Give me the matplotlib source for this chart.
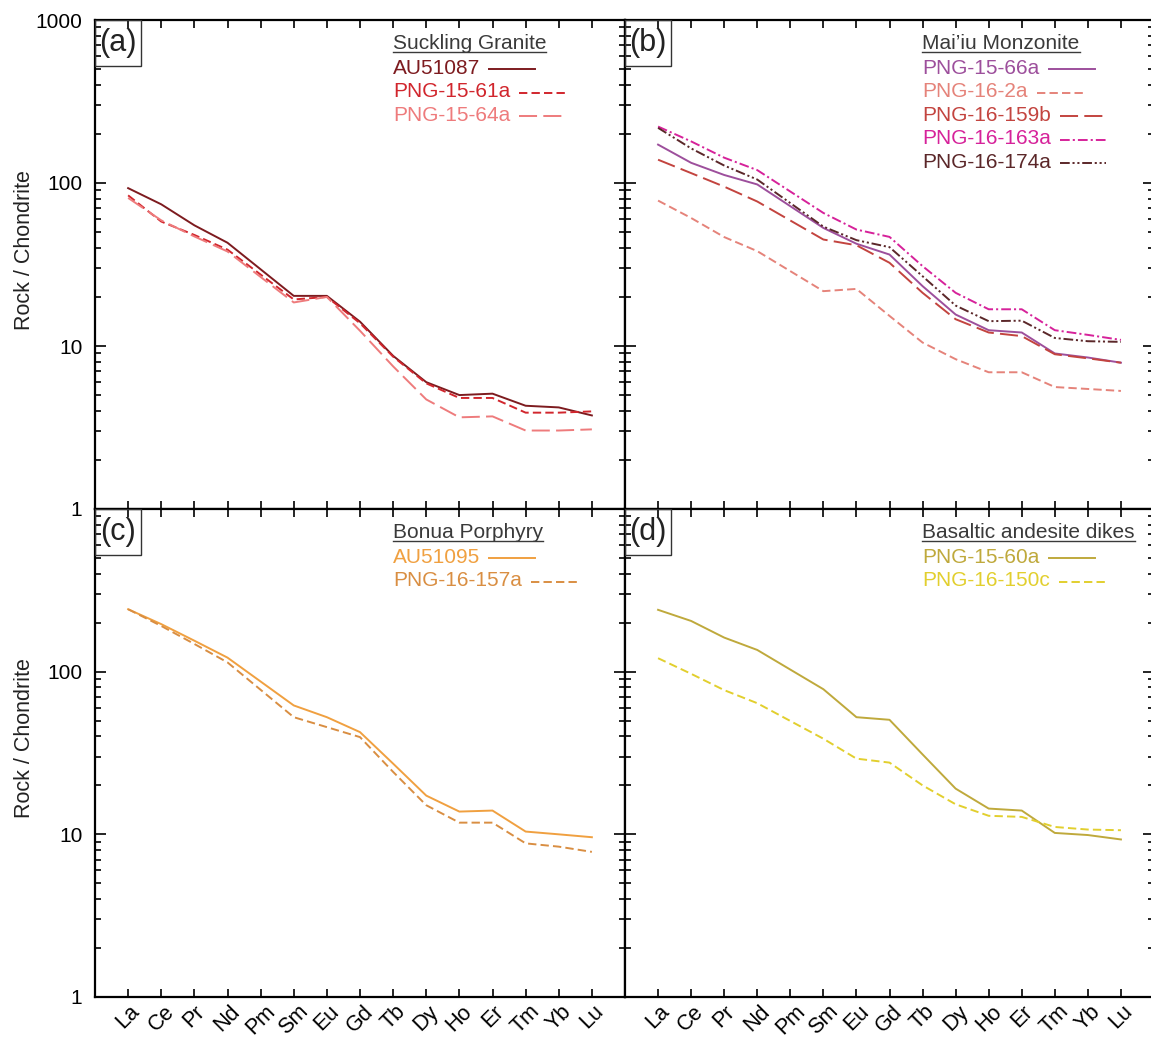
import matplotlib
matplotlib.use("Agg")
import matplotlib.pyplot as plt
import numpy as np
from matplotlib.lines import Line2D
from matplotlib.patches import Rectangle
from matplotlib.ticker import FixedLocator, FuncFormatter, LogLocator, NullFormatter

plt.rcParams["font.family"] = ["Liberation Sans", "DejaVu Sans"]
plt.rcParams["lines.scale_dashes"] = False

nan = np.nan
REE = ["La", "Ce", "Pr", "Nd", "Pm", "Sm", "Eu", "Gd", "Tb", "Dy",
       "Ho", "Er", "Tm", "Yb", "Lu"]

# chondrite-normalised REE, Pm not measured
# (a) Suckling Granite
au51087 = [93, 74, 55, 43, nan, 20.3, 20.3, 14.1, 8.7, 6.0, 5.0, 5.1, 4.3, 4.2, 3.75]
png_15_61a = [84, 58, 48, 39, nan, 19.3, 20.0, 13.8, 8.6, 5.9, 4.8, 4.8, 3.9, 3.9, 3.97]
png_15_64a = [81, 59, 47, 38, nan, 18.5, 20.0, 12.4, 7.5, 4.7, 3.65, 3.7, 3.03, 3.03, 3.08]

# (b) Mai'iu Monzonite
png_15_66a = [172, 133, 112, 98, nan, 53, 42.4, 36.4, 23.3, 15.6, 12.5, 12.1, 9.0, 8.5, 7.9]
png_16_2a = [78, 61, 46.6, 38.2, nan, 21.7, 22.4, 15.3, 10.5, 8.3, 6.9, 6.9, 5.6, 5.45, 5.3]
png_16_159b = [139, 115, 95, 77, nan, 45, 41.5, 32.4, 21.2, 14.6, 12.1, 11.5, 8.9, 8.4, 7.9]
png_16_163a = [222, 180, 143, 120, nan, 65.5, 51.8, 46.7, 30.9, 21.2, 16.8, 16.8, 12.5, 11.7, 10.9]
png_16_174a = [218, 163, 128, 105, nan, 54, 44.6, 40.4, 26.8, 17.7, 14.2, 14.3, 11.2, 10.7, 10.6]

# (c) Bonua Porphyry
au51095 = [242, 196, 155, 122, nan, 62, 52.5, 42.5, 27.2, 17.3, 13.8, 14.0, 10.4, 10.0, 9.6]
png_16_157a = [242, 191, 148, 114, nan, 52.5, 45.6, 39.6, 24.2, 15.1, 11.8, 11.8, 8.8, 8.4, 7.8]

# (d) Basaltic andesite dikes
png_15_60a = [240, 205, 162, 136, nan, 78, 52.5, 50.6, 31, 19.1, 14.4, 14.0, 10.2, 9.9, 9.3]
png_16_150c = [121, 97, 77, 64, nan, 38.7, 29.2, 27.6, 20, 15.3, 13.0, 12.8, 11.1, 10.7, 10.6]

SOLID = (None, None)
SHORT = (0, (6, 3))
LONG = (0, (13, 4.5))
DASHDOT = (0, (7, 2.2, 1.5, 2.2))
DASHDOTDOT = (0, (7, 2, 1.5, 2, 1.5, 2))

panels = [
    ("(a)", "Suckling Granite", [
        ("AU51087", au51087, "#7d1b1f", SOLID),
        ("PNG-15-61a", png_15_61a, "#d1262d", SHORT),
        ("PNG-15-64a", png_15_64a, "#ee7b7c", LONG)]),
    ("(b)", "Mai\u2019iu Monzonite", [
        ("PNG-15-66a", png_15_66a, "#9d4f9c", SOLID),
        ("PNG-16-2a", png_16_2a, "#e5837a", SHORT),
        ("PNG-16-159b", png_16_159b, "#c3443f", LONG),
        ("PNG-16-163a", png_16_163a, "#d6229a", DASHDOT),
        ("PNG-16-174a", png_16_174a, "#5b2729", DASHDOTDOT)]),
    ("(c)", "Bonua Porphyry", [
        ("AU51095", au51095, "#f0a040", SOLID),
        ("PNG-16-157a", png_16_157a, "#d98e42", SHORT)]),
    ("(d)", "Basaltic andesite dikes", [
        ("PNG-15-60a", png_15_60a, "#bfa93c", SOLID),
        ("PNG-16-150c", png_16_150c, "#e2cf2e", SHORT)]),
]

W, H = 1151, 1039
fig = plt.figure(figsize=(W / 100, H / 100), dpi=100)
x0, xm, x1 = 95 / W, 625 / W, 1154 / W
y1, ym, y0 = 1 - 20 / H, 1 - 509 / H, 1 - 997 / H
rects = [[x0, ym, xm - x0, y1 - ym], [xm, ym, x1 - xm, y1 - ym],
         [x0, y0, xm - x0, ym - y0], [xm, y0, x1 - xm, ym - y0]]

x = np.arange(len(REE))
axes = []
for i, (tag, title, series) in enumerate(panels):
    ax = fig.add_axes(rects[i])
    axes.append(ax)
    for name, vals, col, ls in series:
        v = np.array(vals, float)
        ok = ~np.isnan(v)
        kw = {} if ls == SOLID else {"linestyle": ls}
        ax.plot(x[ok], v[ok], color=col, lw=1.4, **kw)
    ax.set_yscale("log")
    ax.set_ylim(1, 1000)
    ax.set_xlim(-1, 15)
    ax.xaxis.set_major_locator(FixedLocator(x))
    ax.yaxis.set_major_locator(FixedLocator([1, 10, 100, 1000]))
    ax.yaxis.set_minor_locator(LogLocator(base=10, subs=np.arange(2, 10)))
    ax.yaxis.set_minor_formatter(NullFormatter())
    bottom_row = i >= 2
    left_col = i % 2 == 0
    ax.yaxis.set_major_formatter(FuncFormatter(
        lambda v, _, b=bottom_row: "" if (b and v > 999) else f"{v:g}"))
    ax.tick_params(which="both", direction="in", top=True, right=True,
                   width=1.2, labelsize=15, colors="black")
    ax.tick_params(which="major", length=8, pad=9)
    ax.tick_params(which="minor", length=4.5)
    ax.tick_params(axis="x", which="major", length=6, pad=3, labelsize=15.5)
    if bottom_row:
        ax.set_xticklabels(REE, rotation=45, ha="center", va="top")
    else:
        ax.set_xticklabels([])
    if not left_col:
        ax.tick_params(axis="y", labelleft=False)
    else:
        ax.set_ylabel("Rock / Chondrite", fontsize=15.5, color="#222222")
        ax.yaxis.set_label_coords(-0.113, 0.53)
    for sp in ax.spines.values():
        sp.set_linewidth(1.6)

    # panel tag box
    ax.add_patch(Rectangle((0, 1 - 46 / 489), 46 / 530, 46 / 489,
                           transform=ax.transAxes, fill=False,
                           ec="#333333", lw=1.0, zorder=5))
    ax.text(23 / 530, 1 - 23 / 489, tag, transform=ax.transAxes,
            ha="center", va="center", fontsize=22, color="#222222")

    # legend block: underlined title, coloured names with line samples
    ax.text(0.562, 0.951, title, transform=ax.transAxes, ha="left",
            va="center", fontsize=15, color="#3a3a3a")
    for k, (name, _, col, ls) in enumerate(series):
        ax.text(0.562, 0.901 - k * 0.048, name, transform=ax.transAxes,
                ha="left", va="center", fontsize=15, color=col)

fig.canvas.draw()
renderer = fig.canvas.get_renderer()
for ax, (tag, title, series) in zip(axes, panels):
    inv = ax.transAxes.inverted()
    texts = [t for t in ax.texts if t.get_text() != tag]
    tb = texts[0].get_window_extent(renderer)
    (ux0, uy), (ux1, _) = inv.transform([(tb.x0, tb.y0 + 1), (tb.x1, tb.y0 + 1)])
    ax.add_line(Line2D([ux0, ux1], [uy, uy], transform=ax.transAxes,
                       color="#3a3a3a", lw=1.0))
    for t, (name, _, col, ls) in zip(texts[1:], series):
        bb = t.get_window_extent(renderer)
        yc = (bb.y0 + bb.y1) / 2 - 1
        (lx0, ly), (lx1, _) = inv.transform([(bb.x1 + 9, yc), (bb.x1 + 55, yc)])
        kw = {} if ls == SOLID else {"linestyle": ls}
        ax.add_line(Line2D([lx0, lx1], [ly, ly], transform=ax.transAxes,
                           color=col, lw=1.4, **kw))

fig.savefig("out.png", dpi=100, facecolor="white")
